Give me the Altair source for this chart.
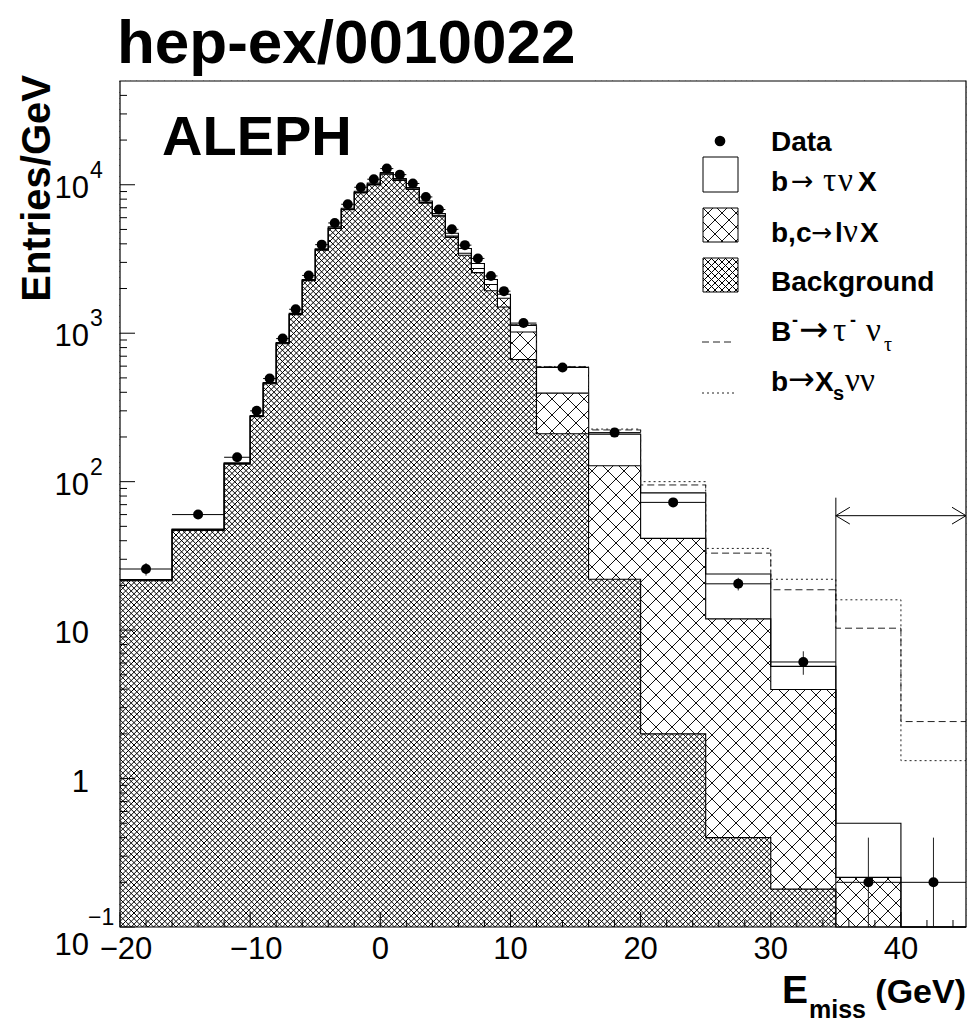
import math
import altair as alt
import pandas as pd

# ---------------- values ----------------
edges = [-20, -16, -12, -10, -9, -8, -7, -6, -5, -4, -3, -2, -1, 0, 1, 2, 3, 4,
         5, 6, 7, 8, 9, 10, 12, 16, 20, 25, 30, 35, 40, 45]
data_vals = [25.8, 60, 146, 300, 495, 920, 1450, 2450, 3950, 5530, 7390, 9620,
             10900, 12850, 11700, 10200, 8280, 6810, 5010, 3920, 3190, 2430,
             1920, 1170, 588, 214, 72.5, 20.5, 6.1, 0.2, 0.2]
data_err = [2.5, 3.9, 8.5, 17, 22, 30, 38, 50, 63, 74, 86, 98, 104, 113, 108,
            101, 91, 83, 71, 63, 56, 49, 44, 24, 12, 7.3, 3.8, 2.0, 1.1, 0.2, 0.2]
bg_vals = [21.5, 47, 131, 274, 457, 850, 1335, 2255, 3630, 5080, 6780, 8820,
           9980, 11760, 10690, 9300, 7520, 6150, 4420, 3350, 2560, 1930, 1500,
           665, 210, 22, 2.0, 0.4, 0.18, 0, 0]
lnu_vals = [0.2, 0.5, 1.5, 2, 3, 5, 8, 15, 25, 35, 50, 70, 80, 90, 90, 90, 80,
            80, 90, 110, 170, 200, 220, 355, 185, 106, 39.5, 11.5, 3.8, 0.216, 0]
taunu_vals = [0.2, 0.5, 1.5, 3, 5, 10, 17, 30, 55, 85, 120, 160, 190, 230, 220,
              200, 180, 170, 200, 260, 220, 170, 110, 110, 194, 81, 42.5, 12.0,
              1.72, 0.284, 0]
sig_edges = [10, 12, 16, 20, 25, 30, 35, 40, 45]
btaunu_vals = [1140, 595, 223, 95, 33, 18.7, 10.3, 2.42]
bxsnunu_vals = [1140, 597, 226, 100, 35.5, 22, 16, 1.32]
arrow_x = [35, 45]
arrow_y = 59
marker_top = 78

x_tick_vals = [-20, -10, 0, 10, 20, 30, 40]
x_tick_labels = ["\u221220", "\u221210", "0", "10", "20", "30", "40"]
y_tick_vals = [1e4, 1e3, 1e2, 10, 1, 0.1]
y_tick_base = ["10", "10", "10", "10", "1", "10"]
y_tick_exp = ["4", "3", "2", "", "", "\u22121"]

title_text = "hep-ex/0010022"
exp_text = "ALEPH"
y_title = "Entries/GeV"

# ---------------- geometry of the frame ----------------
W = H = 846
OX, OY = 120, 81
XMIN, XMAX = -20.0, 45.0
YMIN, YMAX = 0.1, 5e4
LSPAN = math.log10(YMAX / YMIN)
FLOOR = 1e-3

SANS = "Liberation Sans, Arial, Helvetica, sans-serif"
GREEK = "Liberation Serif, Times New Roman, serif"
SYM = "DejaVu Sans, sans-serif"

xs = alt.Scale(domain=[XMIN, XMAX], nice=False, zero=False)
ys = alt.Scale(type="log", domain=[YMIN, YMAX], nice=False, clamp=True)


def X(f):
    return alt.X(f, type="quantitative", scale=xs, axis=None)


def Y(f):
    return alt.Y(f, type="quantitative", scale=ys, axis=None)


def to_px(x):
    return (x - XMIN) / (XMAX - XMIN) * W


def to_pu(v):
    return (math.log10(v) - math.log10(YMIN)) / LSPAN * H


def from_px(p):
    return XMIN + p / W * (XMAX - XMIN)


def from_pu(u):
    return YMIN * 10 ** (u / H * LSPAN)


def hatch(rects, p):
    segs = []
    for x0, x1, u0, u1 in rects:
        if x1 - x0 < 0.5 or u1 - u0 < 0.5:
            continue
        for k in range(math.floor((x0 - u1) / p) - 1, math.ceil((x1 - u0) / p) + 2):
            c = k * p
            xa, xb = max(x0, u0 + c), min(x1, u1 + c)
            if xb - xa > 0.05:
                segs.append((xa, xa - c, xb, xb - c))
        for k in range(math.floor((x0 + u0) / p) - 1, math.ceil((x1 + u1) / p) + 2):
            c = k * p
            xa, xb = max(x0, c - u1), min(x1, c - u0)
            if xb - xa > 0.05:
                segs.append((xa, c - xa, xb, c - xb))
    return pd.DataFrame({
        "x": [from_px(s[0]) for s in segs],
        "y": [from_pu(s[1]) for s in segs],
        "x2": [from_px(s[2]) for s in segs],
        "y2": [from_pu(s[3]) for s in segs],
    })


nb = len(data_vals)
lo = edges[:-1]
hi = edges[1:]
cen = [(a + b) / 2 for a, b in zip(lo, hi)]
lvl_bg = bg_vals
lvl_bl = [b + l for b, l in zip(bg_vals, lnu_vals)]
lvl_tot = [b + l + t for b, l, t in zip(bg_vals, lnu_vals, taunu_vals)]

HATCH = dict(color="black", strokeWidth=1.0)
layers = []

# dense hatch over the whole frame (background), later masked
dense = hatch([(0, W, 0, H)], 5.6)
layers.append(alt.Chart(dense).mark_rule(**HATCH).encode(
    x=X("x"), y=Y("y"), x2=alt.X2("x2"), y2=alt.Y2("y2")))

# white mask above the background histogram (one step area, no seams)
mask = pd.DataFrame({"x": edges,
                     "y": [max(v, FLOOR) for v in lvl_bg] + [max(lvl_bg[-1], FLOOR)],
                     "y2": [YMAX] * (nb + 1)})
layers.append(alt.Chart(mask).mark_area(interpolate="step-after", color="white", opacity=1).encode(
    x=X("x"), y=Y("y"), y2=alt.Y2("y2")))

# sparse hatch for b,c -> l nu X
rects = []
for i in range(nb):
    if lvl_bl[i] <= YMIN:
        continue
    u0 = to_pu(lvl_bg[i]) if lvl_bg[i] > YMIN else 0.0
    rects.append((to_px(lo[i]), to_px(hi[i]), u0, to_pu(lvl_bl[i])))
sparse = hatch(rects, 16.0)
layers.append(alt.Chart(sparse).mark_rule(color="#111", strokeWidth=1.0).encode(
    x=X("x"), y=Y("y"), x2=alt.X2("x2"), y2=alt.Y2("y2")))

# histogram outlines
rows = []
for name, lv in [("total", lvl_tot), ("bl", lvl_bl), ("bg", lvl_bg)]:
    for i in range(nb):
        rows.append({"curve": name, "x": edges[i], "y": max(lv[i], FLOOR)})
    rows.append({"curve": name, "x": edges[-1], "y": max(lv[-1], FLOOR)})
outl = pd.DataFrame(rows)
layers.append(alt.Chart(outl).mark_line(interpolate="step-after", color="black", strokeWidth=1.1).encode(
    x=X("x"), y=Y("y"), detail="curve:N"))


# signal hypotheses
def sig_df(vals):
    return pd.DataFrame({"x": sig_edges, "y": vals + [vals[-1]]})


layers.append(alt.Chart(sig_df(btaunu_vals)).mark_line(
    interpolate="step-after", color="#222", strokeWidth=1, strokeDash=[7, 4]).encode(x=X("x"), y=Y("y")))
layers.append(alt.Chart(sig_df(bxsnunu_vals)).mark_line(
    interpolate="step-after", color="#222", strokeWidth=1, strokeDash=[2, 3]).encode(x=X("x"), y=Y("y")))

# signal region marker
one = pd.DataFrame({"a": [0]})
vline = pd.DataFrame({"x": [arrow_x[0]], "y": [YMIN], "y2": [marker_top]})
layers.append(alt.Chart(vline).mark_rule(color="black", strokeWidth=1).encode(
    x=X("x"), y=Y("y"), y2=alt.Y2("y2")))
harrow = pd.DataFrame({"x": [arrow_x[0]], "x2": [arrow_x[1]], "y": [arrow_y]})
layers.append(alt.Chart(harrow).mark_rule(color="black", strokeWidth=1).encode(
    x=X("x"), x2=alt.X2("x2"), y=Y("y")))
layers.append(alt.Chart(pd.DataFrame({"x": [arrow_x[0]], "y": [arrow_y]})).mark_point(
    shape="M0,0L1,-0.6M0,0L1,0.6", filled=False, size=784, color="black", strokeWidth=1, opacity=1).encode(
    x=X("x"), y=Y("y")))
layers.append(alt.Chart(pd.DataFrame({"x": [arrow_x[1]], "y": [arrow_y]})).mark_point(
    shape="M0,0L-1,-0.6M0,0L-1,0.6", filled=False, size=784, color="black", strokeWidth=1, opacity=1).encode(
    x=X("x"), y=Y("y")))

# data points with error bars
dpts = pd.DataFrame({"lo": lo, "hi": hi, "x": cen, "y": data_vals,
                     "ylo": [max(v - e, FLOOR) for v, e in zip(data_vals, data_err)],
                     "yhi": [v + e for v, e in zip(data_vals, data_err)]})
layers.append(alt.Chart(dpts).mark_rule(color="black", strokeWidth=1).encode(
    x=X("lo"), x2=alt.X2("hi"), y=Y("y")))
layers.append(alt.Chart(dpts).mark_rule(color="#222", strokeWidth=1).encode(
    x=X("x"), y=Y("ylo"), y2=alt.Y2("yhi")))
layers.append(alt.Chart(dpts).mark_circle(size=100, color="black", opacity=1).encode(
    x=X("x"), y=Y("y")))


# ---------------- legend ----------------
def rel_hatch(x0, x1, y0, y1, p):
    # page coordinates -> hatch in data space
    return hatch([(x0 - OX, x1 - OX, H - (y1 - OY), H - (y0 - OY))], p)


layers.append(alt.Chart(rel_hatch(703, 738, 208, 242, 14.0)).mark_rule(color="#111", strokeWidth=1.0).encode(
    x=X("x"), y=Y("y"), x2=alt.X2("x2"), y2=alt.Y2("y2")))
layers.append(alt.Chart(rel_hatch(703, 738, 258, 292, 7.0)).mark_rule(**HATCH).encode(
    x=X("x"), y=Y("y"), x2=alt.X2("x2"), y2=alt.Y2("y2")))
for (y0, y1) in [(157, 192), (208, 242), (258, 292)]:
    layers.append(alt.Chart(one).mark_rect(fillOpacity=0, stroke="black", strokeWidth=1).encode(
        x=alt.value(703 - OX), x2=alt.value(738 - OX), y=alt.value(y0 - OY), y2=alt.value(y1 - OY)))
layers.append(alt.Chart(one).mark_rule(color="#222", strokeWidth=1, strokeDash=[7, 4]).encode(
    x=alt.value(702 - OX), x2=alt.value(734 - OX), y=alt.value(342 - OY)))
layers.append(alt.Chart(one).mark_rule(color="#222", strokeWidth=1, strokeDash=[2, 3]).encode(
    x=alt.value(702 - OX), x2=alt.value(734 - OX), y=alt.value(393 - OY)))
layers.append(alt.Chart(one).mark_circle(size=115, color="black", opacity=1).encode(
    x=alt.value(720 - OX), y=alt.value(141 - OY)))


def txt(s, x, y, size, font=SANS, weight="bold", align="left", baseline="alphabetic", angle=None):
    kw = dict(text=s, font=font, fontSize=size, fontWeight=weight, align=align,
              baseline=baseline, color="black")
    if angle is not None:
        kw["angle"] = angle
    return alt.Chart(one).mark_text(**kw).encode(x=alt.value(x - OX), y=alt.value(y - OY))


LS = 28
GK = 33
# Data
layers.append(txt("Data", 771, 151, LS))
# b -> tau nu X
layers += [txt("b", 771, 191, LS), txt("\u2192", 791, 190, 27, SYM, "normal"),
           txt("\u03c4", 823, 191, GK, GREEK, "normal"), txt("\u03bd", 838, 191, GK, GREEK, "normal"),
           txt("X", 858, 191, LS)]
# b,c -> l nu X
layers += [txt("b,c", 771, 242, LS), txt("\u2192", 811, 241, 25, SYM, "normal"),
           txt("l", 835, 242, LS), txt("\u03bd", 843, 242, GK, GREEK, "normal"),
           txt("X", 860, 242, LS)]
# Background
layers.append(txt("Background", 771, 291, LS))
# B- -> tau- nu_tau
layers += [txt("B", 771, 341, LS), txt("-", 792, 326, 18), txt("\u2192", 799, 341, 35, SYM, "normal"),
           txt("\u03c4", 833, 341, GK, GREEK, "normal"), txt("-", 850, 326, 18),
           txt("\u03bd", 866, 341, GK, GREEK, "normal"), txt("\u03c4", 884, 351, 20, GREEK, "normal")]
# b -> X_s nu nu
layers += [txt("b", 771, 391, LS), txt("\u2192", 788, 390, 32, SYM, "normal"), txt("X", 815, 391, LS),
           txt("s", 833, 400, 20), txt("\u03bd", 845, 391, GK, GREEK, "normal"),
           txt("\u03bd", 860, 391, GK, GREEK, "normal")]

# ---------------- titles ----------------
layers.append(txt(title_text, 117, 63, 62, SANS))
layers.append(txt(exp_text, 162, 155, 56, SANS))
layers.append(txt(y_title, 50, 75, 40, SANS, align="right", angle=270))
layers += [txt("E", 782, 1003, 39, SANS), txt("miss", 809, 1018, 25, SANS),
           txt("(GeV)", 966, 1003, 34, SANS, align="right")]

# ---------------- ticks, tick labels, frame ----------------
y_major = [0.1, 1, 10, 100, 1000, 10000]
y_minor = [m * d for d in y_major for m in range(2, 10) if m * d < YMAX]
x_minor = [v for v in range(-18, 45, 2) if v % 10 != 0]
layers.append(alt.Chart(pd.DataFrame({"y": y_major})).mark_rule(color="black", strokeWidth=1).encode(
    y=Y("y"), x=alt.value(0), x2=alt.value(15)))
layers.append(alt.Chart(pd.DataFrame({"y": y_minor})).mark_rule(color="black", strokeWidth=1).encode(
    y=Y("y"), x=alt.value(0), x2=alt.value(7)))
layers.append(alt.Chart(pd.DataFrame({"x": x_tick_vals})).mark_rule(color="black", strokeWidth=1).encode(
    x=X("x"), y=alt.value(H), y2=alt.value(H - 15)))
layers.append(alt.Chart(pd.DataFrame({"x": x_minor})).mark_rule(color="black", strokeWidth=1).encode(
    x=X("x"), y=alt.value(H), y2=alt.value(H - 7)))

xl = pd.DataFrame({"x": x_tick_vals, "t": x_tick_labels})
xl_neg = xl[xl["x"] < 0]
xl_pos = xl[xl["x"] >= 0]
layers.append(alt.Chart(xl_pos).mark_text(font=SANS, fontSize=31, align="center", baseline="alphabetic",
                                          color="black").encode(x=X("x"), y=alt.value(959 - OY), text="t:N"))
layers.append(alt.Chart(xl_neg).mark_text(font=SANS, fontSize=31, align="center", baseline="alphabetic",
                                          dx=6, color="black").encode(x=X("x"), y=alt.value(959 - OY), text="t:N"))

yl = pd.DataFrame({"y": y_tick_vals, "b": y_tick_base, "e": y_tick_exp})
yl_main = yl[yl["y"] > 0.5]
yl_low = yl[yl["y"] < 0.5]
layers.append(alt.Chart(yl_main).mark_text(font=SANS, fontSize=31, align="right", baseline="alphabetic",
                                           dy=13, color="black").encode(x=alt.value(89 - OX), y=Y("y"), text="b:N"))
layers.append(alt.Chart(yl_main[yl_main["e"] != ""]).mark_text(
    font=SANS, fontSize=23, align="left", baseline="alphabetic", dy=-7, color="black").encode(
    x=alt.value(90 - OX), y=Y("y"), text="e:N"))
layers.append(alt.Chart(yl_low).mark_text(font=SANS, fontSize=31, align="right", baseline="alphabetic",
                                          dy=28, color="black").encode(x=alt.value(89 - OX), y=Y("y"), text="b:N"))
layers.append(alt.Chart(yl_low).mark_text(font=SANS, fontSize=23, align="left", baseline="alphabetic",
                                          dy=-2, color="black").encode(x=alt.value(88 - OX), y=Y("y"), text="e:N"))

layers.append(alt.Chart(one).mark_rect(fillOpacity=0, stroke="black", strokeWidth=1.2).encode(
    x=alt.value(0), x2=alt.value(W), y=alt.value(0), y2=alt.value(H)))

chart = alt.layer(*layers).properties(
    width=W, height=H,
    padding={"left": OX, "top": OY, "right": 968 - OX - W, "bottom": 1023 - OY - H},
    autosize=alt.AutoSizeParams(type="none"),
).configure_view(stroke=None)

chart.save("out.html", embed_options={"renderer": "svg", "actions": False})
